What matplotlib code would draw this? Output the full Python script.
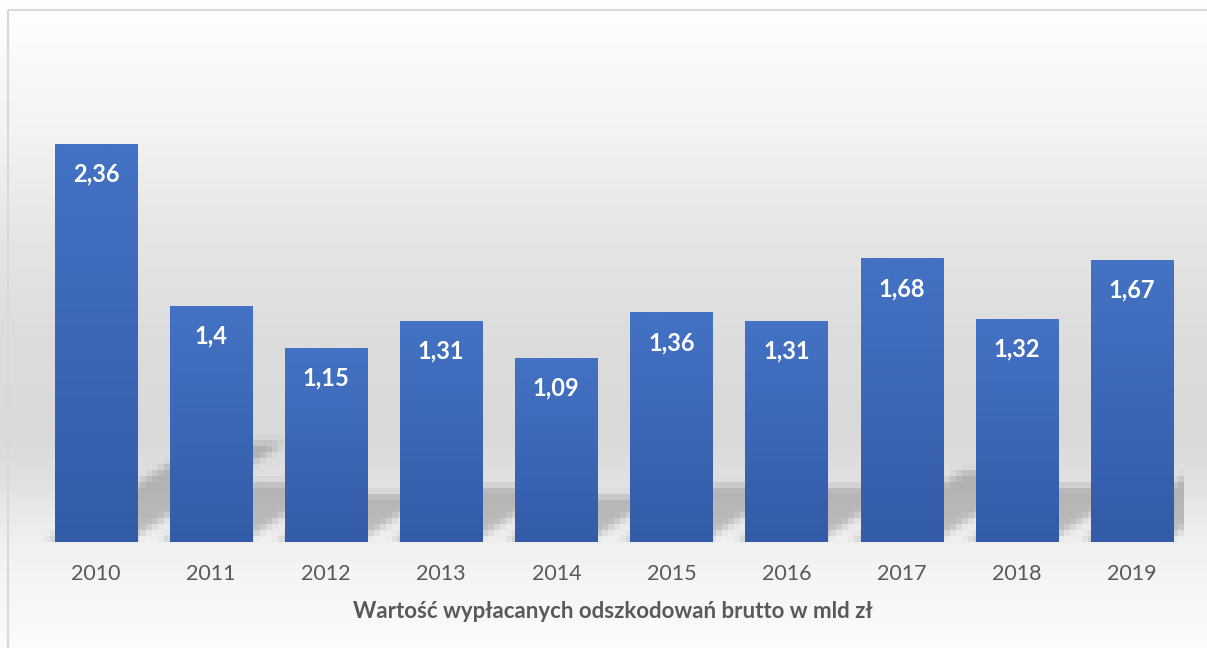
import numpy as np
import matplotlib
matplotlib.use("Agg")
import matplotlib.pyplot as plt
from matplotlib.colors import to_rgb

# ---- data -------------------------------------------------------------
years = ["2010", "2011", "2012", "2013", "2014",
         "2015", "2016", "2017", "2018", "2019"]
values = [2.36, 1.40, 1.15, 1.31, 1.09, 1.36, 1.31, 1.68, 1.32, 1.67]
title = "Wartość wypłacanych odszkodowań brutto w mld zł"

plt.rcParams["font.family"] = ["Lato", "DejaVu Sans"]

W_PX, H_PX = 1207, 648
fig = plt.figure(figsize=(W_PX / 100, H_PX / 100), dpi=100)

# ---- chart-area background: soft vertical grey gradient ---------------
bg = fig.add_axes([0, 0, 1, 1], zorder=-10)
rows = np.arange(H_PX)
stop_y = [0, 133, 233, 333, 433, 483, 545, 600, 648]
stop_v = [1.0, 0.953, 0.902, 0.867, 0.851, 0.885, 0.945, 0.97, 0.985]
shade = np.interp(rows, stop_y, stop_v)
bg.imshow(np.repeat(shade[:, None, None], 3, axis=2), aspect="auto",
          extent=[0, 1, 0, 1], origin="upper", interpolation="bilinear")
bx, by = 8.3 / W_PX, 1 - 9.7 / H_PX
bg.plot([bx, bx], [0, by], color="#d9d9d9", lw=1.5, solid_capstyle="butt")
bg.plot([bx, 1], [by, by], color="#d9d9d9", lw=1.5, solid_capstyle="butt")
bg.set_xlim(0, 1)
bg.set_ylim(0, 1)
bg.axis("off")

# ---- plot area ----------------------------------------------------------
AX_L, AX_W = 38.4, 1151.0          # pixels
AX_B, AX_H = 106.3, 532.0
PX_PER_UNIT = 168.5
ax = fig.add_axes([AX_L / W_PX, AX_B / H_PX, AX_W / W_PX, AX_H / H_PX])
ax.patch.set_alpha(0)
n = len(values)
bar_w = 1 / 1.4
ymax = AX_H / PX_PER_UNIT
px_x = AX_W / n

# perspective shadow behind the bars (skewed, flattened, blurred)
sy, skew, shift, sigma, cell, alpha = 0.25, 1.6, -10.0, 3.5, 6, 0.21
pad = 60
sh_h = 150
cols = np.arange(-pad, int(AX_W) + pad) + 0.5
rws = np.arange(0, sh_h) + 0.5
PX, PY = np.meshgrid(cols, rws)
cover = np.zeros_like(PX)
for i, v in enumerate(values):
    x0 = (i + 0.5 - bar_w / 2) * px_x + shift
    x1 = (i + 0.5 + bar_w / 2) * px_x + shift
    top = sy * v * PX_PER_UNIT
    inside = (PY <= top) & (PX >= x0 + skew * PY) & (PX <= x1 + skew * PY)
    cover = np.maximum(cover, inside.astype(float))


def blur(a, s):
    r = int(3 * s)
    k = np.exp(-0.5 * (np.arange(-r, r + 1) / s) ** 2)
    k /= k.sum()
    a = np.apply_along_axis(lambda m: np.convolve(m, k, mode="same"), 0, a)
    a = np.apply_along_axis(lambda m: np.convolve(m, k, mode="same"), 1, a)
    return a


cover = blur(cover, sigma)[:, pad:pad + int(AX_W)]
hh = (cover.shape[0] // cell) * cell
ww = (cover.shape[1] // cell) * cell
blocks = cover[:hh, :ww].reshape(hh // cell, cell, ww // cell, cell).mean(axis=(1, 3))
rgba = np.zeros(blocks.shape + (4,))
rgba[..., 3] = blocks * alpha
ax.imshow(rgba, origin="lower", aspect="auto", interpolation="nearest",
          extent=[-0.5, -0.5 + ww / px_x, 0, hh / PX_PER_UNIT], zorder=1)

# bars with a vertical blue gradient
c_top = np.array(to_rgb("#4472c4"))
c_bot = np.array(to_rgb("#335ca8"))
t = np.linspace(0, 1, 64)[:, None]
grad = (c_top * (1 - t) + c_bot * t)[:, None, :]
for i, v in enumerate(values):
    ax.imshow(grad, origin="upper", aspect="auto", interpolation="bilinear",
              extent=[i - bar_w / 2, i + bar_w / 2, 0, v], zorder=3)
    label = ("%g" % v).replace(".", ",")
    ax.annotate(label, (i, v), xytext=(0, -30 * 0.72), textcoords="offset points",
                ha="center", va="center", color="white", fontsize=17,
                fontweight="bold", zorder=5)

ax.set_xlim(-0.5, n - 0.5)
ax.set_ylim(0, ymax)
ax.set_xticks(range(n))
ax.set_xticklabels(years, fontsize=15.5, color="#595959")
ax.tick_params(axis="x", length=0, pad=16)
ax.set_yticks([])
for sp in ax.spines.values():
    sp.set_visible(False)

fig.text(613 / W_PX, 1 - 612 / H_PX, title, ha="center", va="center",
         fontsize=16, fontweight="bold", color="#595959")

fig.savefig("out.png", dpi=100)
